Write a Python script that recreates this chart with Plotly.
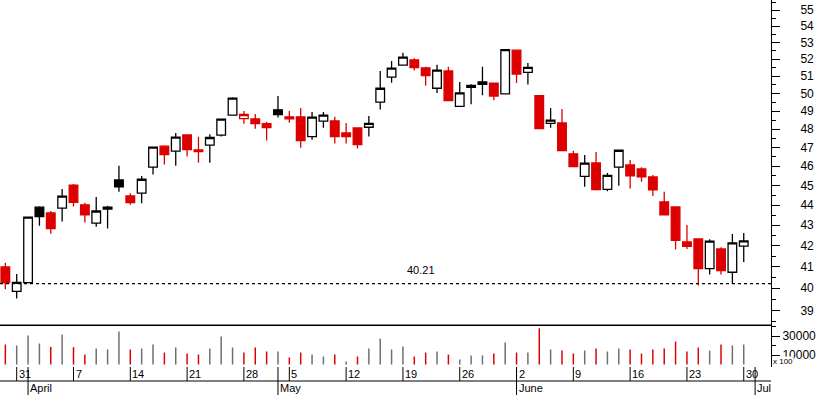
import math
import datetime
import plotly.graph_objects as go

# ---------------- data ----------------
dates = [
    "2008-03-28", "2008-03-31",
    "2008-04-01", "2008-04-02", "2008-04-03", "2008-04-04",
    "2008-04-07", "2008-04-08", "2008-04-09", "2008-04-10", "2008-04-11",
    "2008-04-14", "2008-04-15", "2008-04-16", "2008-04-17", "2008-04-18",
    "2008-04-21", "2008-04-22", "2008-04-23", "2008-04-24", "2008-04-25",
    "2008-04-28", "2008-04-29", "2008-04-30", "2008-05-02",
    "2008-05-05", "2008-05-06", "2008-05-07", "2008-05-08", "2008-05-09",
    "2008-05-12", "2008-05-13", "2008-05-14", "2008-05-15", "2008-05-16",
    "2008-05-19", "2008-05-20", "2008-05-21", "2008-05-22", "2008-05-23",
    "2008-05-26", "2008-05-27", "2008-05-28", "2008-05-29", "2008-05-30",
    "2008-06-02", "2008-06-03", "2008-06-04", "2008-06-05", "2008-06-06",
    "2008-06-09", "2008-06-10", "2008-06-11", "2008-06-12", "2008-06-13",
    "2008-06-16", "2008-06-17", "2008-06-18", "2008-06-19", "2008-06-20",
    "2008-06-23", "2008-06-24", "2008-06-25", "2008-06-26", "2008-06-27",
    "2008-06-30",
]

opens = [40.99, 39.86, 40.26, 43.89, 43.60, 43.84, 45.02, 44.01, 43.10, 43.79,
         45.28, 44.46, 44.60, 45.95, 47.07, 46.80, 47.68, 46.87, 47.13, 47.67,
         48.77, 48.58, 48.56, 48.30, 49.07, 48.68, 48.68, 47.59, 48.44, 48.45,
         47.79, 48.06, 48.10, 49.50, 50.94, 51.65, 51.96, 51.49, 50.30, 51.31,
         49.27, 50.35, 50.66, 50.60, 49.98, 52.54, 51.22, 49.88, 48.32, 48.34,
         46.66, 45.47, 46.17, 44.80, 45.95, 46.07, 45.86, 45.44, 44.16, 43.90,
         42.18, 42.32, 40.91, 41.84, 40.74, 41.98]
highs = [41.18, 40.66, 43.39, 43.94, 43.70, 44.81, 45.07, 44.11, 44.41, 43.96,
         46.02, 44.60, 45.49, 47.02, 47.12, 47.79, 47.68, 47.58, 47.72, 48.58,
         49.78, 49.00, 48.83, 48.40, 49.86, 49.01, 49.18, 48.95, 48.95, 48.68,
         48.34, 48.06, 48.73, 51.31, 51.90, 52.39, 52.06, 51.55, 51.67, 51.55,
         50.66, 50.53, 51.55, 50.60, 52.58, 52.54, 51.78, 49.88, 49.18, 49.12,
         46.82, 46.60, 46.76, 45.65, 46.87, 46.33, 45.95, 45.54, 44.67, 43.90,
         43.01, 42.32, 42.31, 41.92, 42.56, 42.61]
lows = [39.95, 39.53, 40.26, 42.97, 42.58, 43.18, 43.92, 43.13, 42.92, 42.83,
        44.68, 44.01, 44.09, 45.56, 46.09, 46.03, 46.51, 46.19, 46.19, 47.59,
        48.77, 48.30, 48.02, 47.37, 48.64, 48.35, 46.99, 47.42, 48.08, 47.21,
        47.21, 46.94, 47.59, 49.09, 50.62, 51.65, 51.33, 50.45, 50.02, 49.59,
        49.27, 49.39, 49.89, 49.61, 49.98, 50.60, 50.52, 48.02, 48.08, 46.83,
        45.98, 44.93, 44.74, 44.70, 44.98, 44.84, 45.19, 44.46, 43.51, 41.81,
        41.84, 40.12, 40.63, 40.63, 40.22, 41.22]
closes = [40.26, 40.27, 43.39, 43.42, 42.83, 44.45, 44.14, 43.51, 43.70, 43.89,
          44.93, 44.12, 45.32, 47.02, 46.62, 47.56, 46.89, 46.78, 47.54, 48.55,
          49.73, 48.81, 48.30, 48.08, 48.80, 48.56, 47.37, 48.66, 48.77, 47.59,
          47.59, 47.16, 48.32, 50.30, 51.47, 52.13, 51.50, 51.03, 51.35, 49.59,
          50.03, 50.47, 50.53, 49.85, 52.58, 51.12, 51.52, 48.02, 48.49, 46.83,
          45.98, 46.16, 44.79, 45.52, 46.85, 45.50, 45.45, 44.77, 43.51, 42.25,
          41.96, 40.91, 42.22, 40.82, 42.13, 42.23]
volumes = [21000, 20000, 30500, 22100, 18300, 31600, 18300, 10500, 16900, 15800,
           34800, 15800, 16900, 21000, 12600, 17900, 11600, 10500, 16900, 29500,
           17900, 12600, 17900, 13700, 13700, 7400, 12600, 10500, 8400, 10500,
           3200, 8400, 16900, 27400, 15800, 19000, 8400, 12600, 13700, 10500,
           5300, 9500, 9500, 11600, 23200, 12600, 12600, 38200, 15800, 14700,
           11600, 14700, 16900, 13700, 16900, 15800, 11600, 15800, 16900, 24200,
           13700, 17900, 14700, 21000, 20000, 21000]

support_level = 40.21
price_ticks = list(range(39, 56))
volume_ticks = [10000, 30000]
volume_minor_ticks = [20000, 40000]
month_names = ["April", "May", "June", "Jul"]

# ---------------- styling ----------------
W, H = 817, 395
PLOT_H = 367            # plot area height in px (margin bottom 28)
VOL_H = 42              # volume panel height in px
RED = "#dc0000"
BLACK = "#000000"
GRAY = "#6e6e6e"
FONT = "Liberation Sans, Arial, sans-serif"

n = len(dates)
xs = list(range(n))
x_range = [-0.47, n + 1.4]
price_range = [math.log10(38.35), math.log10(55.65)]
vol_range = [-2632, 41579]

prev_close = [opens[0]] + closes[:-1]

styles = {
    "hollow_black": ("white", BLACK),
    "hollow_red": ("white", RED),
    "solid_black": (BLACK, BLACK),
    "solid_red": (RED, RED),
}
groups = {k: [] for k in styles}
for i in range(n):
    hollow = closes[i] >= opens[i]
    down = closes[i] <= prev_close[i]
    key = ("hollow_" if hollow else "solid_") + ("red" if down else "black")
    groups[key].append(i)

fig = go.Figure()

for key, idxs in groups.items():
    if not idxs:
        continue
    fill, line = styles[key]
    st = dict(fillcolor=fill, line=dict(color=line, width=1.3))
    fig.add_trace(go.Candlestick(
        x=[xs[i] for i in idxs],
        open=[opens[i] for i in idxs],
        high=[highs[i] for i in idxs],
        low=[lows[i] for i in idxs],
        close=[closes[i] for i in idxs],
        increasing=st, decreasing=st, whiskerwidth=0,
        hoverinfo="skip", showlegend=False, xaxis="x", yaxis="y",
    ))

# support line
fig.add_trace(go.Scatter(
    x=x_range, y=[support_level, support_level], mode="lines",
    line=dict(color=BLACK, width=1.2, dash="3px,3px"),
    hoverinfo="skip", showlegend=False, xaxis="x", yaxis="y",
))

vol_colors = [RED if closes[i] < prev_close[i] else GRAY for i in range(n)]
fig.add_trace(go.Bar(
    x=xs, y=volumes, marker=dict(color=vol_colors, line=dict(width=0)),
    width=0.13, hoverinfo="skip", showlegend=False, xaxis="x", yaxis="y2",
))

shapes = []
annotations = []
row1 = -14 / PLOT_H
row2 = -28 / PLOT_H

# panel separators
for yy in [VOL_H / PLOT_H, row1]:
    shapes.append(dict(type="line", xref="paper", yref="paper", x0=0, x1=1,
                       y0=yy, y1=yy, line=dict(color=BLACK, width=1)))

# weekly ticks (Mondays)
parsed = [datetime.date.fromisoformat(d) for d in dates]
for i, d in enumerate(parsed):
    if d.weekday() == 0:
        shapes.append(dict(type="line", xref="x", yref="paper", x0=i, x1=i,
                           y0=row1, y1=0, line=dict(color=BLACK, width=1)))
        annotations.append(dict(x=i, y=row1 / 2, xref="x", yref="paper",
                                text=str(d.day), showarrow=False, xanchor="left",
                                yanchor="middle", xshift=0,
                                font=dict(size=11, color=BLACK, family=FONT)))

# month starts
month_idx = []
for i, d in enumerate(parsed):
    if i > 0 and d.month != parsed[i - 1].month:
        month_idx.append(i)
month_idx.append(n)  # next month starts after the last trading day
for name, i in zip(month_names, month_idx):
    shapes.append(dict(type="line", xref="x", yref="paper", x0=i, x1=i,
                       y0=row2, y1=0, line=dict(color=BLACK, width=1)))
    annotations.append(dict(x=i, y=(row1 + row2) / 2, xref="x", yref="paper",
                            text=name, showarrow=False, xanchor="left",
                            yanchor="middle", xshift=0,
                            font=dict(size=11, color=BLACK, family=FONT)))

# support label
annotations.append(dict(x=0.546, y=math.log10(support_level), xref="paper", yref="y",
                        text=f"{support_level:.2f}", showarrow=False,
                        yanchor="bottom", yshift=6,
                        font=dict(size=11, color=BLACK, family=FONT)))

# volume multiplier box
annotations.append(dict(x=1, y=5.5 / PLOT_H, xref="paper", yref="paper",
                        text="x 100", showarrow=False, xanchor="left", yanchor="middle",
                        xshift=1, bgcolor="white", borderpad=0,
                        font=dict(size=8, color=BLACK, family=FONT)))

fig.update_layout(
    width=W, height=H,
    margin=dict(l=0, r=46, t=0, b=28),
    paper_bgcolor="white", plot_bgcolor="white",
    showlegend=False,
    boxgap=0.2, boxgroupgap=0.05,
    shapes=shapes, annotations=annotations,
    xaxis=dict(range=x_range, showgrid=False, zeroline=False, showticklabels=False,
               ticks="", showline=True, linecolor=BLACK, linewidth=1,
               rangeslider=dict(visible=False), fixedrange=True),
    yaxis=dict(type="log", domain=[VOL_H / PLOT_H, 1], range=price_range,
               side="right", anchor="x", showgrid=False, zeroline=False,
               showline=True, linecolor=BLACK, linewidth=1,
               tickmode="array", tickvals=price_ticks,
               ticktext=[str(t) for t in price_ticks],
               ticks="outside", ticklen=8, tickwidth=1, tickcolor=BLACK,
               ticklabelstandoff=18,
               minor=dict(tickmode="array", tickvals=[t + 0.5 for t in range(38, 56)],
                          ticks="outside", ticklen=4, tickwidth=1, tickcolor=BLACK),
               tickfont=dict(size=12, color=BLACK, family=FONT)),
    yaxis2=dict(domain=[0, VOL_H / PLOT_H], range=vol_range, side="right", anchor="x",
                showgrid=False, zeroline=False, showline=True, linecolor=BLACK,
                linewidth=1, tickmode="array", tickvals=volume_ticks,
                ticktext=[str(t) for t in volume_ticks],
                ticks="outside", ticklen=8, tickwidth=1, tickcolor=BLACK,
                minor=dict(tickmode="array", tickvals=volume_minor_ticks,
                           ticks="outside", ticklen=4, tickwidth=1, tickcolor=BLACK),
                tickfont=dict(size=12, color=BLACK, family=FONT)),
)

fig.write_html(
    "out.html",
    config={"displayModeBar": False, "staticPlot": True},
    post_script="document.body.style.margin='0';document.body.style.overflow='hidden';",
)
